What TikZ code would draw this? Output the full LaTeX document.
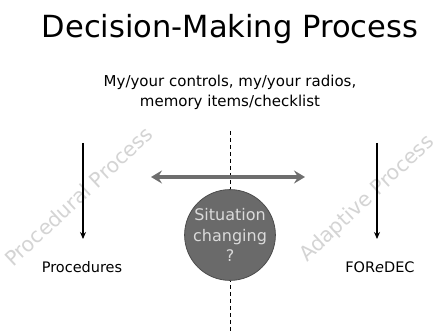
\documentclass[tikz,border=0pt]{standalone}
\usepackage{fontspec}
\setmainfont{DejaVu Sans}
\usetikzlibrary{arrows.meta}
\definecolor{wm}{HTML}{D4D4D4}
\definecolor{garrow}{HTML}{6E6E6E}
\definecolor{circfill}{HTML}{6A6A6A}
\definecolor{circtext}{HTML}{DADADA}
\begin{document}
\begin{tikzpicture}[x=1pt,y=-1pt,
  txt/.style={inner sep=0pt, font=\fontsize{14.5}{20}\selectfont, align=center},
  watermark/.style={inner sep=0pt, text=wm, font=\fontsize{20.5}{24}\selectfont, rotate=43, anchor=base west},
  downarrow/.style={-{Stealth[length=7pt,width=6pt]}, line width=1.3pt},
  bigarrow/.style={{Stealth[length=11pt,width=13pt,inset=4pt]}-{Stealth[length=11pt,width=13pt,inset=4pt]}, line width=3.5pt, draw=garrow}]
\useasboundingbox (0,0) rectangle (440,334);
\fill[white] (0,0) rectangle (440,334);
% watermarks
\node[watermark] (wm1) at (13,268) {Procedural Process};
\node[watermark] (wm2) at (307,263) {Adaptive Process};
% title
\node[inner sep=0pt, anchor=base, font=\fontsize{30.5}{34}\selectfont] (title) at (230,38) {Decision-Making Process};
\node[inner sep=0pt, anchor=base, font=\fontsize{15}{20}\selectfont] (sub1) at (230,87) {My/your controls, my/your radios,};
\node[inner sep=0pt, anchor=base, font=\fontsize{15}{20}\selectfont] (sub2) at (230,107) {memory items/checklist};
% dashed line
\coordinate (dtop) at (230,131);
\coordinate (dbot) at (230,334);
\draw[dashed, line width=1pt, dash pattern=on 4pt off 3pt] (dtop) -- (dbot);
% big double arrow
\coordinate (al) at (151,177);
\coordinate (ar) at (305,177);
\draw[bigarrow] (al) -- (ar);
% circle
\node[circle, minimum size=90pt, inner sep=0pt, fill=circfill, draw=black!70, line width=0.8pt,
      text=circtext, align=center, font=\fontsize{16}{20.5}\selectfont] (sit) at (230,235) {Situation\\changing\\?};
% procedures
\node[txt] (proc) at (82,267) {Procedures};
\node[txt] (fore) at (380,267) {FOR\textit{e}DEC};
\coordinate (ltop) at (83,143);
\coordinate (rtop) at (377,143);
\draw[downarrow] (ltop) -- (83,239);
\draw[downarrow] (rtop) -- (377,239);
\end{tikzpicture}
\end{document}
